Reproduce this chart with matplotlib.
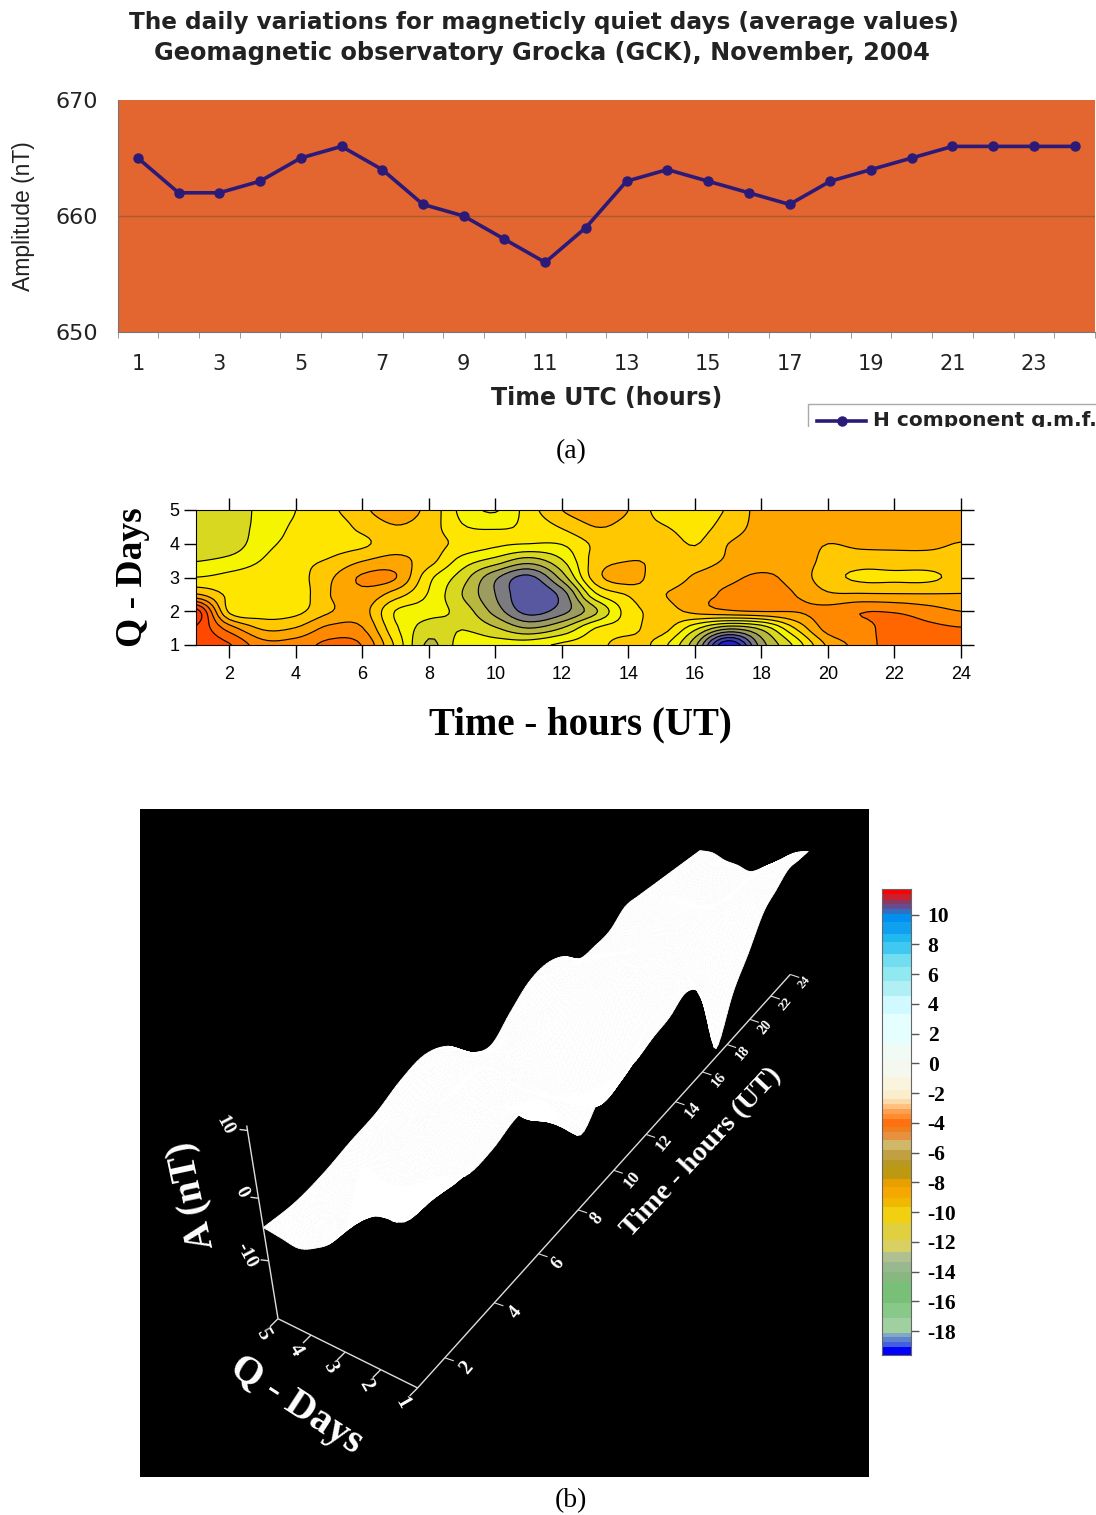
import numpy as np
import matplotlib
matplotlib.use("Agg")
import matplotlib.pyplot as plt
from matplotlib.colors import ListedColormap, BoundaryNorm
from matplotlib.collections import PolyCollection
from matplotlib.patches import Rectangle

W, H = 1096, 1515
SANS = "Liberation Sans"
SERIF = "Liberation Serif"
WIDE = "DejaVu Sans"

# ---------- panel (a) ----------
hours_a = list(range(1, 25))
h_component = [665, 662, 662, 663, 665, 666, 664, 661, 660, 658, 656, 659,
               663, 664, 663, 662, 661, 663, 664, 665, 666, 666, 666, 666]
title_lines = ["The daily variations for magneticly quiet days (average values)",
               "Geomagnetic observatory Grocka (GCK), November, 2004"]

# ---------- contour data (band units), rows Q = 1 ... 5 in half steps ----------
hours = np.arange(1, 25)
q_rows = [1, 1.5, 2, 2.5, 3, 3.5, 4, 4.5, 5]
row_q1_0 = [0.3, 0.9, 2.6, 2.5, 1.75, 2.05, 5.2, 8.2, 6.5, 6.5, 6.4, 5.8, 5.4, 4.5, 5.6, 8.7, 14.0, 9.5, 6.8, 3.8, 2.6, 1.5, 1.5, 1.5]
row_q1_5 = [0.1, 2.5, 4.15, 3.95, 2.75, 2.95, 5.8, 7.5, 7.05, 7.9, 9.0, 8.0, 6.0, 5.4, 4.6, 6.7, 8.7, 7.7, 5.0, 2.6, 2.4, 1.5, 1.75, 1.95]
row_q2_0 = [-0.5, 5.2, 5.5, 5.3, 4.1, 3.6, 6.05, 6.6, 7.4, 9.4, 11.4, 10.4, 8.2, 5.5, 4.6, 3.7, 3.15, 2.95, 2.95, 2.6, 2.05, 2.1, 2.55, 3.0]
row_q2_5 = [3.9, 5.2, 5.3, 5.6, 4.05, 3.3, 4.5, 6.1, 8.0, 10.0, 11.8, 10.6, 6.2, 4.9, 4.1, 3.4, 2.85, 2.65, 3.0, 3.85, 3.9, 3.93, 3.95, 3.95]
row_q3_0 = [5.97, 5.7, 5.5, 5.4, 4.2, 2.85, 2.95, 5.7, 7.5, 9.8, 11.3, 8.6, 4.5, 3.5, 4.6, 3.85, 3.25, 2.85, 3.35, 4.6, 5.2, 5.2, 5.2, 4.7]
row_q3_5 = [7.05, 6.7, 5.95, 5.3, 4.9, 4.05, 3.7, 4.6, 6.4, 7.4, 8.5, 7.1, 4.6, 4.02, 4.15, 4.5, 3.85, 3.4, 3.4, 4.3, 4.5, 4.4, 4.4, 4.3]
row_q4_0 = [7.7, 7.6, 6.35, 5.7, 5.5, 5.2, 4.4, 4.6, 5.3, 5.8, 6.0, 5.95, 4.8, 4.3, 4.4, 5.05, 4.0, 3.5, 3.5, 4.0, 3.8, 3.8, 3.8, 4.05]
row_q4_5 = [7.5, 7.5, 6.65, 5.85, 5.7, 4.7, 4.05, 4.5, 5.9, 6.1, 5.8, 4.9, 4.0, 4.3, 4.9, 5.3, 4.6, 3.6, 3.5, 3.5, 3.5, 3.5, 3.5, 3.5]
row_q5_0 = [7.3, 7.3, 6.8, 6.0, 5.3, 4.2, 3.6, 4.3, 6.3, 7.1, 5.5, 4.0, 3.5, 4.0, 5.4, 5.3, 4.9, 3.6, 3.5, 3.5, 3.5, 3.5, 3.5, 3.5]
bands = np.array([row_q1_0, row_q1_5, row_q2_0, row_q2_5, row_q3_0,
                  row_q3_5, row_q4_0, row_q4_5, row_q5_0])
band_levels = [-3, 0, 1, 2, 3, 4, 5, 6, 7, 8, 9, 10, 11, 12, 13, 14, 16]
band_colors = ["#FF3A00", "#FF4800", "#FF6600", "#FF8800", "#FFA500", "#FFC800",
               "#FFE600", "#F5F500", "#D8D820", "#B8B840", "#9C9C60", "#7C7C80",
               "#5858A0", "#4040B0", "#2020D8", "#0000FF"]

# ---------- colour bar ----------
cbar_edges = [11.72, 11.39, 10.98, 10.72, 10.38, 10.04, 9.49, 8.70, 8.14, 7.36, 6.47, 5.57,
              4.56, 3.33, 1.32, 0.20, -0.92, -1.81, -2.37, -2.71, -3.04, -3.38, -3.71, -4.27,
              -4.61, -5.17, -5.84, -6.51, -6.96, -7.74, -8.30, -9.08, -9.64, -10.76, -11.88,
              -12.66, -13.33, -14.00, -14.68, -16.13, -17.14, -18.14, -18.37, -18.70, -19.04, -19.60]
cbar_colors = ["#FF0000", "#C8202F", "#8A3A60", "#6A4A90", "#3070C0", "#0090F0", "#10A0F0",
               "#20B8F0", "#40C8F0", "#70DDF0", "#90E8F0", "#B0F0F5", "#D0FAFF", "#E5FFFF",
               "#F0FBF5", "#F5F8EE", "#FAF3DD", "#FBEECC", "#FDDBA8", "#FFC080", "#FFA050",
               "#FF8C30", "#FF7010", "#EE8020", "#E69040", "#D0B868", "#C0A040", "#B89820",
               "#BE9810", "#E8A000", "#F5A800", "#F0B800", "#F0D010", "#E0D040", "#D8D060",
               "#B0C090", "#98B890", "#88B880", "#78C078", "#88C888", "#A0D0A0", "#80A8C0",
               "#6080D0", "#4060E0", "#0000FF"]
cbar_ticks = [10, 8, 6, 4, 2, 0, -2, -4, -6, -8, -10, -12, -14, -16, -18]


def smooth_axis(arr, axis, n=6):
    """Catmull-Rom refinement, as the original gridding software draws smooth contours."""
    a = np.moveaxis(arr, axis, 0)
    m = a.shape[0]
    t = np.linspace(0, m - 1, (m - 1) * n + 1)
    i = np.minimum(t.astype(int), m - 2)
    u = (t - i).reshape((-1,) + (1,) * (a.ndim - 1))
    p0, p1, p2, p3 = a[np.maximum(i - 1, 0)], a[i], a[i + 1], a[np.minimum(i + 2, m - 1)]
    out = 0.5 * (2 * p1 + (p2 - p0) * u + (2 * p0 - 5 * p1 + 4 * p2 - p3) * u ** 2
                 + (3 * p1 - p0 - 3 * p2 + p3) * u ** 3)
    return np.moveaxis(out, 0, axis)


fine = smooth_axis(smooth_axis(bands, 0), 1)
fine_h = np.linspace(hours[0], hours[-1], fine.shape[1])
fine_q = np.linspace(q_rows[0], q_rows[-1], fine.shape[0])
amplitude = 10 - 2 * fine   # nT, same surface in the 3-D view

fig = plt.figure(figsize=(W / 100, H / 100), dpi=100, facecolor="white")


def px_axes(x0, y0, x1, y1, **kw):
    return fig.add_axes([x0 / W, 1 - y1 / H, (x1 - x0) / W, (y1 - y0) / H], **kw)


# ---------- panel (a) ----------
ax = px_axes(117.5, 100, 1095, 332, facecolor="#E36530")
ax.plot(hours_a, h_component, color="#2B1A78", lw=2.6, marker="o", ms=6.5, zorder=3)
ax.axhline(660, color="#A85A30", lw=1)
ax.set_xlim(0.5, 24.5)
ax.set_ylim(650, 670)
ax.set_yticks([650, 660, 670])
ax.set_xticks(range(1, 25, 2))
ax.set_xticks(np.arange(0.5, 25, 1), minor=True)
ax.tick_params(axis="x", which="major", length=0, pad=16, labelsize=15)
ax.tick_params(axis="x", which="minor", length=4, color="#888888")
ax.tick_params(axis="y", length=0, pad=14, labelsize=16)
for s in ("top", "right"):
    ax.spines[s].set_visible(False)
for s in ("left", "bottom"):
    ax.spines[s].set_color("#777777")
for lab in ax.get_xticklabels() + ax.get_yticklabels():
    lab.set_family(WIDE)
    lab.set_color("#222222")

# ---------- contour panel ----------
ax2 = px_axes(196, 510, 961, 645)
cmap = ListedColormap(band_colors)
norm = BoundaryNorm(band_levels, cmap.N)
ax2.contourf(fine_h, fine_q, np.clip(fine, -2.9, 15.9), levels=band_levels, cmap=cmap, norm=norm)
ax2.contour(fine_h, fine_q, fine, levels=band_levels[1:-1], colors="black", linewidths=0.85)
ax2.set_xlim(1, 24)
ax2.set_ylim(1, 5)
ax2.set_xticks(range(2, 25, 2))
ax2.set_yticks(range(1, 6))
ax2.tick_params(direction="out", length=9, width=1, top=True, right=True, labelsize=13, pad=6)
ax2.tick_params(axis="y", length=9, pad=3)
for lab in ax2.get_xticklabels() + ax2.get_yticklabels():
    lab.set_family(SANS)

# ---------- panel (b): surface through a perspective camera ----------
ax3 = px_axes(140, 809, 869, 1477, facecolor="black")
ax3.set_xlim(140, 869)
ax3.set_ylim(1477, 809)
ax3.set_xticks([])
ax3.set_yticks([])
for s in ax3.spines.values():
    s.set_visible(False)

# reference points of the view (hour, day, nT) -> screen
cam_world = [(1, 5, 10), (1, 5, 0), (1, 5, -10), (1, 5, -20), (1, 1, -20), (1, 4, -20), (1, 3, -20),
             (1, 2, -20), (24, 1, -20), (22, 1, -20), (20, 1, -20), (18, 1, -20), (16, 1, -20),
             (14, 1, -20), (12, 1, -20), (10, 1, -20), (8, 1, -20), (4, 1, -20), (2, 1, -20),
             (24, 1, 7), (17, 1, -18), (1, 5, -4.6), (1, 1, 9.4), (24, 5, 3), (24, 3, -0.4)]
cam_screen = [(242, 1128), (257, 1198), (268, 1262), (282, 1320), (415, 1387), (312, 1336), (346, 1353),
              (379, 1369), (790, 974), (772, 996), (752, 1019), (727, 1044), (702, 1072),
              (675, 1102), (646, 1133), (613, 1170), (576, 1209), (494, 1303), (444, 1358),
              (805, 848), (717, 1053), (262, 1220), (415, 1205), (703, 856), (748, 873)]
M = []
b = []
for (a1, a2, a3), (u, v) in zip(cam_world, cam_screen):
    M.append([a1, a2, a3, 1, 0, 0, 0, 0, -u * a1, -u * a2, -u * a3])
    b.append(u)
    M.append([0, 0, 0, 0, a1, a2, a3, 1, -v * a1, -v * a2, -v * a3])
    b.append(v)
P = np.append(np.linalg.lstsq(np.array(M, float), np.array(b, float), rcond=None)[0], 1.0).reshape(3, 4)


def project(h, q, a):
    r = P @ np.array([h, q, a, 1.0])
    return r[0] / r[2], r[1] / r[2]


polys = []
for i in range(len(fine_q) - 1):
    for j in range(len(fine_h) - 1):
        corners = [(j, i), (j + 1, i), (j + 1, i + 1), (j, i + 1)]
        polys.append([project(fine_h[c], fine_q[r], amplitude[r, c]) for c, r in corners])
ax3.add_collection(PolyCollection(polys, facecolors="white", edgecolors="white", linewidths=0.6, zorder=2))


def seg(p0, p1, lw=1.0, col="#DDDDDD"):
    ax3.plot([p0[0], p1[0]], [p0[1], p1[1]], color=col, lw=lw, zorder=3, solid_capstyle="butt")


AX_MIN, AX_TOP = -20, 10.7
seg(project(1, 5, AX_MIN), project(1, 5, AX_TOP))
seg(project(1, 5, AX_MIN), project(1, 1, AX_MIN))
seg(project(1, 1, AX_MIN), project(24, 1, AX_MIN))


def lab3(x, y, s, size, rot):
    ax3.text(x, y, s, color="white", fontsize=size, rotation=rot, family=SERIF, weight="bold",
             ha="center", va="center", rotation_mode="anchor", zorder=4)


for a_val, s, in ((10, "10"), (0, "0"), (-10, "-10")):
    p = project(1, 5, a_val)
    seg((p[0] - 8, p[1] - 1), p)
    lab3(p[0] - (23 if a_val == 10 else 17 if a_val == 0 else 22), p[1] - 5 if a_val else p[1] - 6, s, 14, -62)
for q_val in (5, 4, 3, 2, 1):
    p = project(1, q_val, AX_MIN)
    seg(p, (p[0] - 8, p[1] + 8))
    lab3(p[0] - 15, p[1] + 15, str(q_val), 15, -60)
for h_val in range(2, 25, 2):
    p = project(h_val, 1, AX_MIN)
    seg(p, (p[0] + 9, p[1] + 3), lw=0.8)
    size = 15 - (h_val / 24) * 6
    lab3(p[0] + 22 - h_val * 0.35, p[1] + 10 - h_val * 0.1, str(h_val), size, 50)

lab3(296, 1405, "Q - Days", 29, -33)
lab3(702, 1152, "Time - hours (UT)", 20.5, 47)
lab3(193, 1195, "A (nT)", 28, 102)

# ---------- colour bar ----------
ax4 = px_axes(882, 889, 911, 1355)
ax4.pcolormesh([0, 1], cbar_edges[::-1], np.arange(len(cbar_colors))[::-1].reshape(-1, 1),
               cmap=ListedColormap(cbar_colors), shading="flat")
ax4.set_xlim(0, 1)
ax4.set_ylim(cbar_edges[-1], cbar_edges[0])
ax4.set_xticks([])
ax4.yaxis.tick_right()
ax4.set_yticks(cbar_ticks)
ax4.set_yticklabels([str(t) for t in cbar_ticks], family=SERIF, weight="bold", fontsize=15.5)
ax4.tick_params(axis="y", length=6, width=1, color="#555555", pad=6)
for s in ax4.spines.values():
    s.set_color("#666666")

# ---------- page-level text, legend ----------
pg = fig.add_axes([0, 0, 1, 1], zorder=10, facecolor="none")
pg.set_xlim(0, W)
pg.set_ylim(H, 0)
pg.axis("off")
pg.text(544, 22, title_lines[0], ha="center", va="center", family=WIDE, weight="bold", fontsize=16.7, color="#222222")
pg.text(542, 53, title_lines[1], ha="center", va="center", family=WIDE, weight="bold", fontsize=17.3, color="#222222")
pg.text(24, 216, "Amplitude (nT)", rotation=90, ha="center", va="center", family=SANS, fontsize=16.5, color="#222222")
pg.text(607, 398, "Time UTC (hours)", ha="center", va="center", family=WIDE, weight="bold", fontsize=17, color="#222222")
pg.plot([808, 808, 1096], [427, 404, 404], color="#AAAAAA", lw=1)
pg.plot([817, 866], [421, 421], color="#2B1A78", lw=2.6)
pg.plot([842], [421], "o", color="#2B1A78", ms=6.5)
pg.text(873, 426, "H component g.m.f.", ha="left", va="baseline", family=WIDE, weight="bold", fontsize=14.5, color="#222222")
pg.add_patch(Rectangle((800, 427), 296, 14, facecolor="white", edgecolor="none", zorder=5))
pg.text(571, 452, "(a)", ha="center", va="center", family=SERIF, fontsize=20, color="black")
pg.text(571, 1501, "(b)", ha="center", va="center", family=SERIF, fontsize=20, color="black")
pg.text(132, 577, "Q - Days", rotation=90, ha="center", va="center", family=SERIF, weight="bold", fontsize=27, color="black")
pg.text(580, 725, "Time - hours (UT)", ha="center", va="center", family=SERIF, weight="bold", fontsize=28, color="black")

fig.savefig("out.png", dpi=100, facecolor="white")
